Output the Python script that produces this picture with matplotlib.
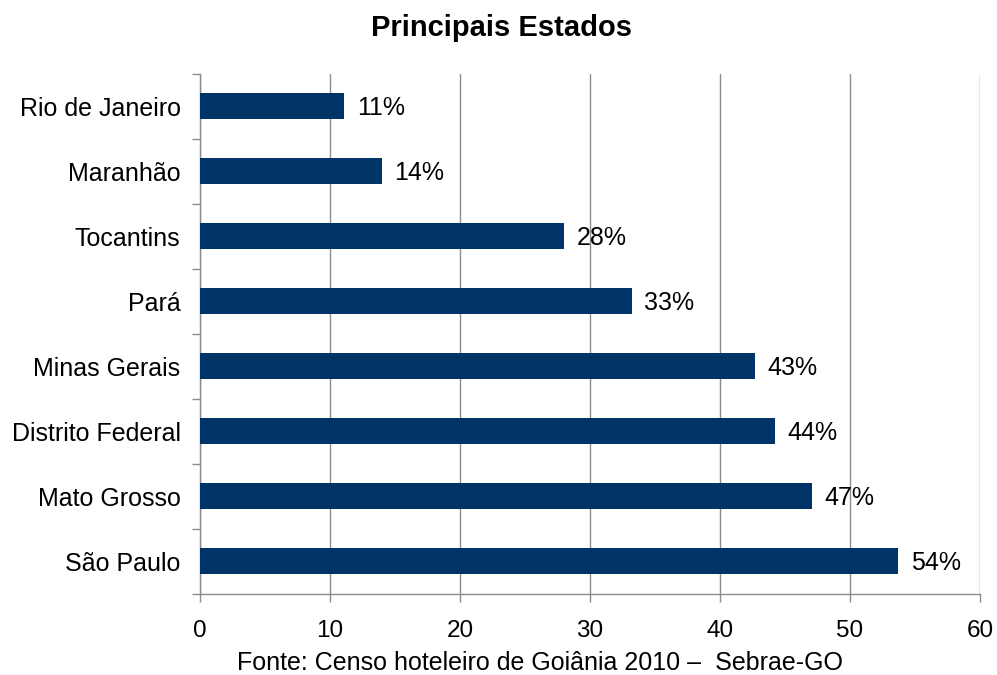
import numpy as np
import matplotlib.pyplot as plt

plt.rcParams['font.family'] = ['Liberation Sans', 'DejaVu Sans']

estados = ['Rio de Janeiro', 'Maranhão', 'Tocantins', 'Pará',
           'Minas Gerais', 'Distrito Federal', 'Mato Grosso', 'São Paulo']
valores = [11.1, 14.0, 28.0, 33.2, 42.7, 44.2, 47.1, 53.7]
xticks = [0, 10, 20, 30, 40, 50, 60]

cor_barra = '#003366'
cor_eixo = '#8c8c8c'

fig = plt.figure(figsize=(9.97, 6.75), dpi=100)
ax = fig.add_axes([0.2006, 0.12, 0.7823, 0.7704])

pos = np.arange(len(estados))
ax.barh(pos, valores, height=0.4, color=cor_barra, zorder=3)

for p, v in zip(pos, valores):
    ax.annotate(f'{v:.0f}%', (v, p), xytext=(9, -1), textcoords='offset points',
                va='center', ha='left', fontsize=18)

ax.set_xlim(0, 60)
ax.set_ylim(len(estados) - 0.5, -0.5)
ax.set_xticks(xticks)
ax.set_xticklabels([str(t) for t in xticks], fontsize=17.5)
ax.set_yticks(pos)
ax.set_yticklabels(estados, fontsize=18)
ax.set_yticks(np.arange(len(estados) + 1) - 0.5, minor=True)

ax.tick_params(axis='y', which='major', length=0, pad=14)
ax.tick_params(axis='y', which='minor', length=6, color=cor_eixo, width=1)
ax.tick_params(axis='x', length=6, color=cor_eixo, width=1, pad=13)

ax.grid(axis='x', color=cor_eixo, linewidth=1, zorder=0)
for s in ['top', 'right']:
    ax.spines[s].set_visible(False)
for s in ['left', 'bottom']:
    ax.spines[s].set_color(cor_eixo)
    ax.spines[s].set_linewidth(1)

fig.text(0.503, 0.958, 'Principais Estados', ha='center', va='center',
         fontsize=21, fontweight='bold')
fig.text(0.542, 0.018, 'Fonte: Censo hoteleiro de Goiânia 2010 –  Sebrae-GO',
         ha='center', va='center', fontsize=18)

fig.savefig('out.png', dpi=100)
